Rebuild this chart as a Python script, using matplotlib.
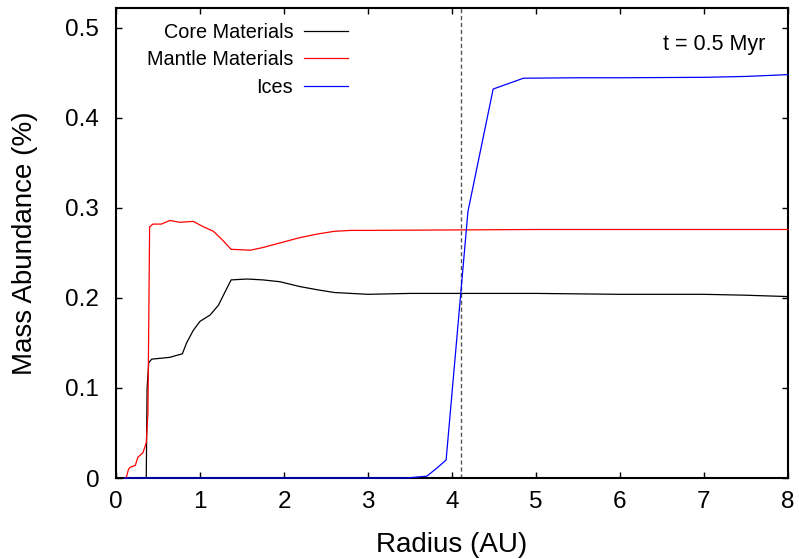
import matplotlib
matplotlib.use("Agg")
import matplotlib.pyplot as plt

plt.rcParams["font.family"] = ["Liberation Sans", "DejaVu Sans"]

# Core materials (black)
core_r = [0.1, 0.36, 0.365, 0.37, 0.39, 0.425, 0.64, 0.79, 0.84, 0.92, 1.0, 1.12,
          1.22, 1.30, 1.37, 1.56, 1.75, 1.95, 2.19, 2.4, 2.6, 2.8, 3.0, 3.5, 4.0,
          5.0, 6.0, 7.0, 7.5, 8.0]
core_v = [0.0, 0.0, 0.05, 0.10, 0.128, 0.132, 0.134, 0.138, 0.150, 0.164, 0.174, 0.181,
          0.192, 0.207, 0.220, 0.221, 0.220, 0.218, 0.2126, 0.209, 0.206, 0.205, 0.204,
          0.205, 0.205, 0.205, 0.204, 0.204, 0.203, 0.2015]

# Mantle materials (red)
mantle_r = [0.12, 0.15, 0.17, 0.23, 0.26, 0.32, 0.36, 0.38, 0.40, 0.44, 0.54, 0.64,
            0.76, 0.92, 1.04, 1.16, 1.26, 1.37, 1.6, 1.75, 1.95, 2.19, 2.4, 2.6, 2.8,
            3.0, 4.0, 5.0, 6.0, 7.0, 8.0]
mantle_v = [0.0, 0.01, 0.012, 0.014, 0.023, 0.028, 0.039, 0.072, 0.279, 0.282, 0.282,
            0.286, 0.284, 0.285, 0.279, 0.274, 0.265, 0.254, 0.253, 0.256, 0.261, 0.267,
            0.271, 0.274, 0.275, 0.275, 0.2755, 0.276, 0.276, 0.276, 0.276]

# Ices (blue)
ice_r = [0.1, 3.45, 3.70, 3.82, 3.93, 4.19, 4.49, 4.85, 5.5, 6.0, 7.0, 7.5, 8.0]
ice_v = [0.0, 0.0, 0.002, 0.011, 0.020, 0.296, 0.432, 0.444, 0.4445, 0.4445, 0.445,
         0.446, 0.448]

snow_line = 4.11

fig = plt.figure(figsize=(7.99, 5.59), dpi=100)
ax = fig.add_axes([0.1452, 0.1449, 0.841, 0.8408])

ax.plot(core_r, core_v, color="black", lw=0.9, label="Core Materials",
        clip_on=False, zorder=3)
ax.plot(mantle_r, mantle_v, color="#ff0000", lw=0.9, label="Mantle Materials",
        clip_on=False, zorder=3)
ax.plot(ice_r, ice_v, color="#0000ff", lw=0.9, label="Ices",
        clip_on=False, zorder=3)
ax.axvline(snow_line, color="#555555", lw=1.0, ls=(0, (3, 2)))

ax.set_xlim(0, 8)
ax.set_ylim(0, 0.522)
ax.set_xticks(range(0, 9))
ax.set_yticks([0, 0.1, 0.2, 0.3, 0.4, 0.5])
ax.set_yticklabels(["0", "0.1", "0.2", "0.3", "0.4", "0.5"])
ax.tick_params(direction="in", length=4.5, width=1, top=True, right=True,
               labelsize=17.5)
ax.tick_params(axis="x", pad=9)
ax.tick_params(axis="y", pad=12)
for s in ax.spines.values():
    s.set_linewidth(1.5)

ax.set_xlabel("Radius (AU)", fontsize=20, labelpad=14)
ax.set_ylabel("Mass Abundance (%)", fontsize=20)
ax.yaxis.label.set_va("center")
ax.yaxis.set_label_coords(-0.135, 0.5)

ax.text(7.73, 0.481, "t = 0.5 Myr", fontsize=15.5, ha="right", va="center")

ax.legend(loc="upper right", bbox_to_anchor=(0.345, 0.968), frameon=False,
          markerfirst=False, fontsize=14.3, handlelength=2.2, handletextpad=0.55,
          labelspacing=0.42, borderpad=0, borderaxespad=0)

fig.savefig("out.png", dpi=100)
